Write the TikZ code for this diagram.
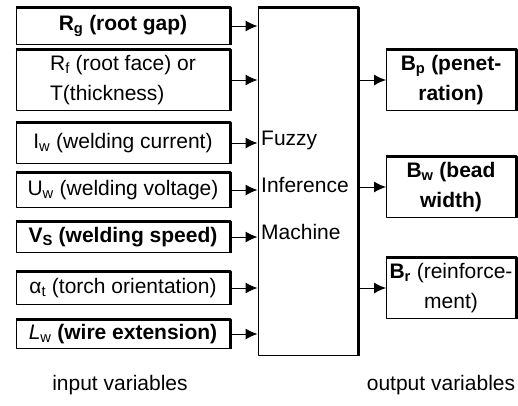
\documentclass[tikz,border=0pt]{standalone}
\usepackage{fontspec}
\setmainfont{Liberation Sans}
\usetikzlibrary{arrows.meta}

\begin{document}
\begin{tikzpicture}[x=1pt,y=-1pt,join=round,
        font=\fontsize{21}{30}\selectfont,
        inbox/.style={draw,line width=1pt,minimum width=214pt,inner sep=1pt},
        outbox/.style={draw,line width=1pt,minimum width=129pt,minimum height=60pt,align=center,inner sep=1pt},
        feed/.style={-{Latex[length=12pt,width=11pt]},line width=1pt}]
    \useasboundingbox (0,0) rectangle (518,405);
    % input variables
    \node[inbox,minimum height=36pt] (rg) at (123,26) {\textbf{R\textsubscript{g} (root gap)}};
    \node[inbox,minimum height=60pt,align=left] (rf) at (123,80) {R\textsubscript{f} (root face) or\\T(thickness)};
    \node[inbox,minimum height=40pt] (iw) at (123,143) {I\textsubscript{w} (welding current)};
    \node[inbox,minimum height=35pt] (uw) at (123,190) {U\textsubscript{w} (welding voltage)};
    \node[inbox,minimum height=31pt] (vs) at (123,237) {\textbf{V\textsubscript{S} (welding speed)}};
    \node[inbox,minimum height=33pt] (at) at (123,288) {α\textsubscript{t} (torch orientation)};
    \node[inbox,minimum height=29pt] (lw) at (123,334) {\textit{L}\textsubscript{w} \textbf{(wire extension)}};
    % inference machine
    \node[draw,line width=1pt,minimum width=100pt,minimum height=347pt] (fim) at (308,181.5) {};
    \node[anchor=west,inner sep=1pt] (fuzzy) at (260,140) {Fuzzy};
    \node[anchor=west,inner sep=1pt] (infer) at (260,185) {Inference};
    \node[anchor=west,inner sep=1pt] (machine) at (260,232) {Machine};
    % output variables
    \node[outbox] (bp) at (451,80) {\textbf{B\textsubscript{p} (penet-}\\\textbf{ration)}};
    \node[outbox,minimum height=61pt] (bw) at (451,187) {\textbf{B\textsubscript{w} (bead}\\\textbf{width)}};
    \node[outbox] (br) at (451,288) {\textbf{B\textsubscript{r}} (reinforce-\\ment)};
    % heavy top and right edges
    \foreach \n in {rg,rf,iw,uw,vs,at,lw,fim,bp,bw,br}
        \draw[line width=3pt] (\n.north west) -- (\n.north east) -- (\n.south east);
    % connections
    \foreach \n in {rg,rf,iw,uw,vs,at,lw}
        \draw[feed] (\n.east) -- (\n.east -| fim.west);
    \foreach \n in {bp,bw,br}
        \draw[feed] (\n.west -| fim.east) -- (\n.west);
    \node[font=\fontsize{21}{25}\selectfont] (inlab) at (120,385) {input variables};
    \node[font=\fontsize{21}{25}\selectfont] (outlab) at (441,385) {output variables};
\end{tikzpicture}
\end{document}
